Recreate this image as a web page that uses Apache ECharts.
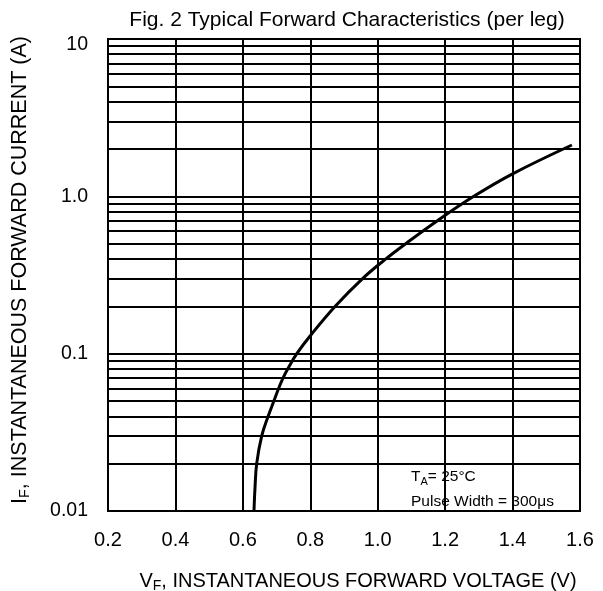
<!DOCTYPE html>
<html>
<head>
<meta charset="utf-8">
<script src="https://cdn.jsdelivr.net/npm/echarts@6/dist/echarts.min.js"></script>
<style>html,body{margin:0;padding:0;background:#fff;}#c{width:603px;height:591px;}</style>
</head>
<body>
<div id="c"></div>
<script>
// Data
var voltage = [0.633, 0.636, 0.641, 0.656, 0.675, 0.692, 0.706, 0.719, 0.733, 0.760, 0.800, 0.874, 0.955, 1.024, 1.083, 1.177, 1.285, 1.400, 1.576];
var current = [0.010, 0.014, 0.020, 0.030, 0.040, 0.050, 0.060, 0.070, 0.080, 0.100, 0.130, 0.200, 0.300, 0.400, 0.500, 0.700, 1.000, 1.390, 2.120];
var xTickLabels = ['0.2', '0.4', '0.6', '0.8', '1.0', '1.2', '1.4', '1.6'];
var yTickLabels = ['0.01', '0.1', '1.0', '10'];
var yMinorGrid = [0.02, 0.03, 0.04, 0.05, 0.06, 0.07, 0.08, 0.09, 0.2, 0.3, 0.4, 0.5, 0.6, 0.7, 0.8, 0.9, 2, 3, 4, 5, 6, 7, 8, 9];

var FONT = '"Liberation Sans", Arial, sans-serif';
var curve = voltage.map(function (v, i) { return [v, current[i]]; });

var chart = echarts.init(document.getElementById('c'), null, {renderer: 'canvas'});
chart.setOption({
  animation: false,
  backgroundColor: '#fff',
  title: {
    text: 'Fig. 2 Typical Forward Characteristics (per leg)',
    left: 342, top: 5, textAlign: 'center',
    textStyle: {fontFamily: FONT, fontSize: 21, fontWeight: 'normal', color: '#000'}
  },
  grid: {left: 108, top: 39, right: 23, bottom: 80, outerBoundsMode: 'none', containLabel: false,
    show: true, borderColor: '#000', borderWidth: 2, backgroundColor: 'transparent'},
  xAxis: {
    type: 'value', min: 0.2, max: 1.6, interval: 0.2,
    axisLine: {show: true, lineStyle: {color: '#000', width: 2}},
    axisTick: {show: false},
    axisLabel: {
      margin: 19, color: '#000', fontFamily: FONT, fontSize: 20,
      formatter: function (v) { var i = Math.round((v - 0.2) / 0.2); return xTickLabels[i] || ''; }
    },
    splitLine: {show: true, lineStyle: {color: '#000', width: 2}},
    name: '{n|V}{s|F}{n|, INSTANTANEOUS FORWARD VOLTAGE (V)}',
    nameLocation: 'middle', nameGap: 58,
    nameTextStyle: {
      padding: [0, 0, 0, 28],
      rich: {
        n: {fontFamily: FONT, fontSize: 20, color: '#000', lineHeight: 24},
        s: {fontFamily: FONT, fontSize: 14, color: '#000', lineHeight: 24, verticalAlign: 'bottom', padding: [10, 0, 0, 0]}
      }
    }
  },
  yAxis: {
    type: 'log', logBase: 10, min: 0.01, max: 10, splitNumber: 3,
    axisLine: {show: true, lineStyle: {color: '#000', width: 2}},
    axisTick: {show: false},
    minorTick: {show: false},
    axisLabel: {
      margin: 20, color: '#000', fontFamily: FONT, fontSize: 19.5,
      formatter: function (v) {
        var i = Math.round(Math.log10(v)) + 2;
        var t = yTickLabels[i] || '';
        return i === yTickLabels.length - 1 ? '{t|' + t + '}' : t;
      },
      rich: {t: {fontFamily: FONT, fontSize: 19.5, color: '#000', padding: [12, 0, 0, 0]}}
    },
    splitLine: {show: true, lineStyle: {color: '#000', width: 2}},
    name: '{n|I}{s|F}{n|, INSTANTANEOUS FORWARD CURRENT (A)}',
    nameLocation: 'middle', nameGap: 76, nameRotate: 90,
    nameTextStyle: {
      padding: [0, 0, 0, 10],
      rich: {
        n: {fontFamily: FONT, fontSize: 21.5, color: '#000', lineHeight: 24},
        s: {fontFamily: FONT, fontSize: 14.5, color: '#000', lineHeight: 24, verticalAlign: 'bottom', padding: [10, 0, 0, 0]}
      }
    }
  },
  series: [
    {
      type: 'line', data: [], z: 1, silent: true,
      markLine: {
        silent: true, symbol: ['none', 'none'], animation: false,
        label: {show: false},
        lineStyle: {color: '#000', width: 2, type: 'solid'},
        emphasis: {disabled: true},
        data: yMinorGrid.map(function (v) { return {yAxis: v}; })
      }
    },
    {
      type: 'line', data: curve, z: 5, smooth: 0.4, showSymbol: false, silent: true,
      lineStyle: {color: '#000', width: 3}
    }
  ],
  graphic: [
    {
      type: 'group', left: 405, top: 465, z: 100,
      children: [
        {type: 'rect', shape: {x: 0, y: 0, width: 160, height: 44}, style: {fill: '#fff'}},
        {type: 'text', x: 6, y: 2, style: {
          text: '{n|T}{s|A}{n|= 25°C}',
          rich: {
            n: {fontFamily: FONT, fontSize: 15.5, fill: '#000', lineHeight: 20},
            s: {fontFamily: FONT, fontSize: 11, fill: '#000', lineHeight: 20, verticalAlign: 'bottom', padding: [7, 0, 0, 0]}
          }
        }},
        {type: 'text', x: 6, y: 29, style: {text: 'Pulse Width = 300μs', fontFamily: FONT, fontSize: 15.5, fill: '#000'}}
      ]
    }
  ]
});
</script>
</body>
</html>
